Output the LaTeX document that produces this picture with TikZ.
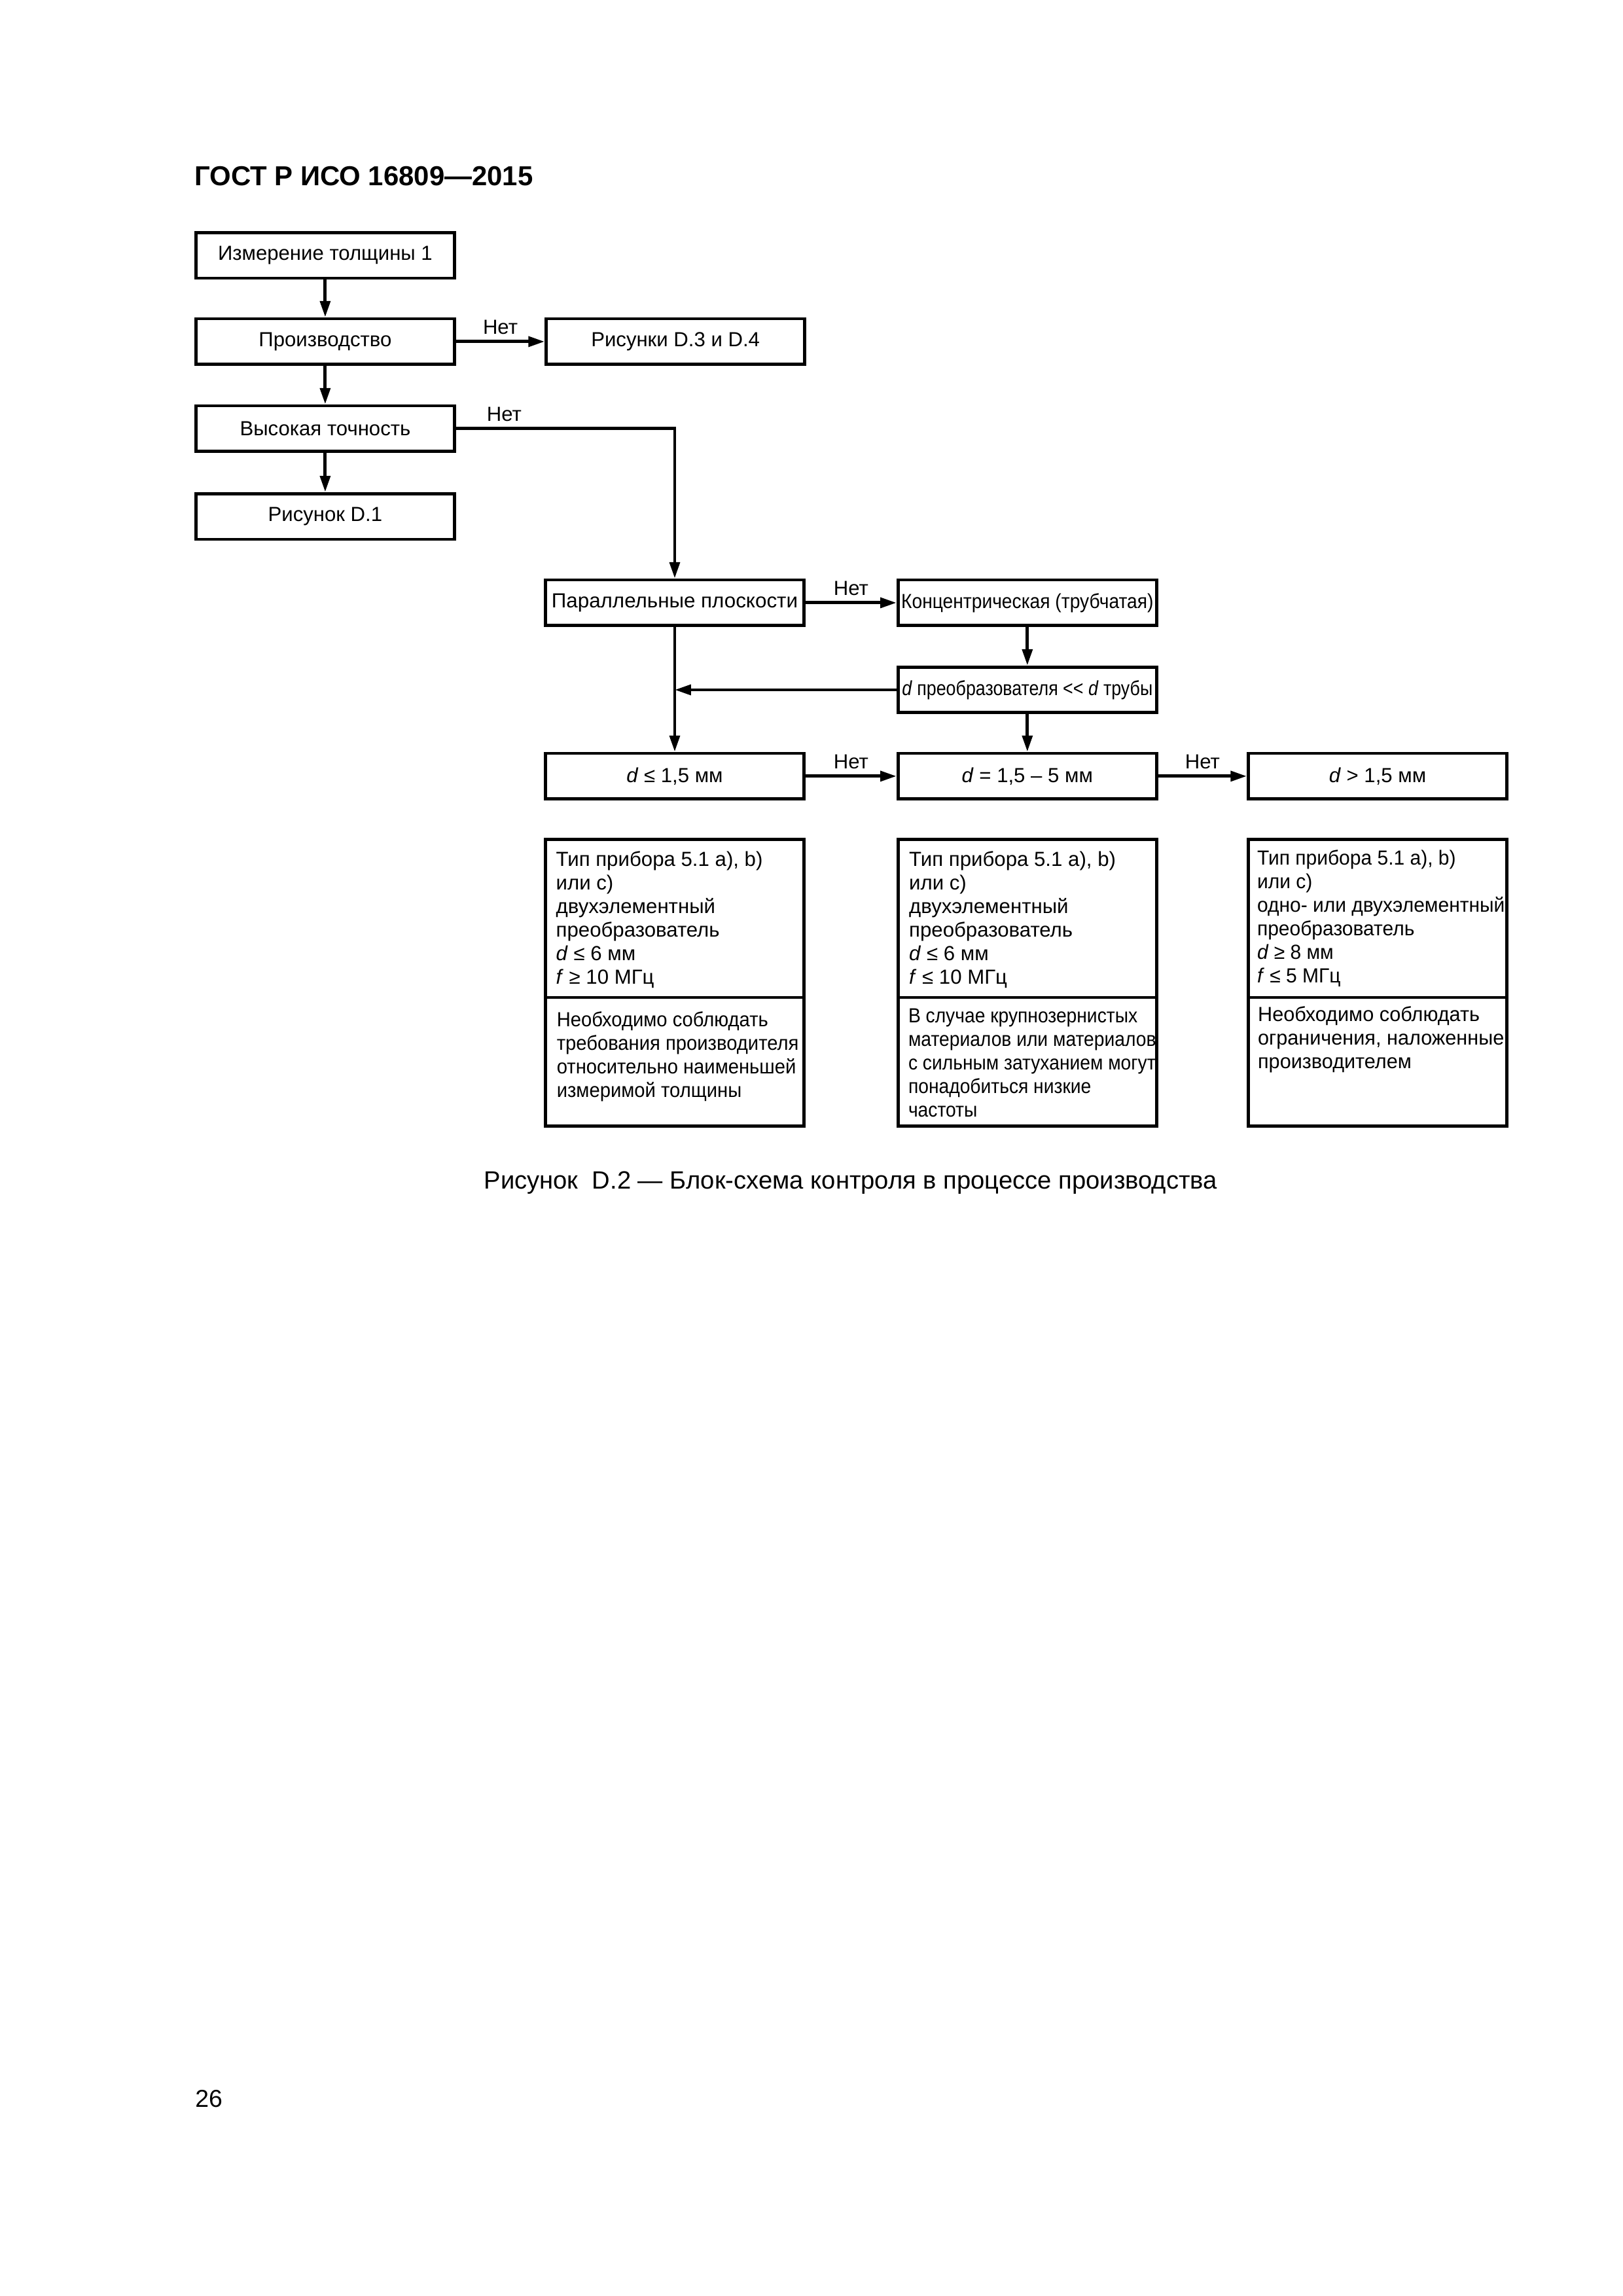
\documentclass[tikz,border=0pt]{standalone}
\usepackage{fontspec}
\setmainfont{Liberation Sans}
\usepackage{graphicx}
\usetikzlibrary{arrows.meta}
\newlength\natw
\newcommand\fitw[3]{\settowidth\natw{#2}\pgfmathsetmacro\fitf{(#1)/\natw}\scalebox{\fitf}[1]{#3}}
\newcommand\fitone[2]{\fitw{#1}{#2}{#2}}
\newcommand\blk[1]{\begin{tabular}[t]{@{}l@{}}#1\end{tabular}}
\newcommand\fs{\fontsize{7.5}{9}\selectfont}
\newcommand\fsl{\fontsize{7.5}{8.7}\selectfont}
\begin{document}
\begin{tikzpicture}[x=0.19091mm, y=-0.19091mm,
  box/.style={draw, line width=0.4mm, minimum width=33.45mm, minimum height=5.9mm, inner sep=0.3mm, font=\fs},
  lbl/.style={font=\fs, inner sep=0pt, anchor=south, yshift=0.7mm},
  conn/.style={line width=0.42mm, -{Triangle[length=2.1mm,width=1.3mm]}},
  frame/.style={draw, line width=0.4mm, minimum width=33.45mm, inner sep=0pt},
  txt/.style={inner sep=0pt, anchor=base west, font=\fsl}
]
\useasboundingbox (0,0) rectangle (1100,1556);

\node[anchor=base west, inner sep=0pt, font=\fontsize{10.1}{12}\selectfont\bfseries] (title) at (131.5,125.7) {ГОСТ Р ИСО 16809—2015};

\node[box] (izm) at (220.4,173) {Измерение толщины 1};
\node[box] (proizv) at (220.4,231.5) {Производство};
\node[box] (ris34) at (457.8,231.5) {Рисунки D.3 и D.4};
\node[box] (vys) at (220.4,290.5) {Высокая точность};
\node[box] (ris1) at (220.4,350) {Рисунок D.1};
\node[box] (par) at (457.3,408.5) {\fitone{31.86mm}{Параллельные плоскости}};
\node[box] (konc) at (696.3,408.5) {\fitone{32.62mm}{Концентрическая (трубчатая)}};
\node[box] (dpr) at (696.3,467.5) {\fitone{32.43mm}{\textit{d} преобразователя <\kern0pt< \textit{d} трубы}};
\node[box] (d1) at (457.3,526) {\textit{d} ≤ 1,5 мм};
\node[box] (d2) at (696.3,526) {\textit{d} = 1,5 – 5 мм};
\node[box] (d3) at (933.7,526) {\textit{d} > 1,5 мм};

% lower boxes
\node[frame, minimum height=20.43mm] (t1) at (457.3,622.5) {};
\node[frame, minimum height=16.61mm] (b1) at (457.3,719.5) {};
\node[frame, minimum height=20.43mm] (t2) at (696.3,622.5) {};
\node[frame, minimum height=16.61mm] (b2) at (696.3,719.5) {};
\node[frame, minimum height=20.43mm] (t3) at (933.7,622.5) {};
\node[frame, minimum height=16.61mm] (b3) at (933.7,719.5) {};

\node[txt] (tt1) at (376.5,587) {\fitw{26.74mm}{Тип прибора 5.1 a), b)}{\blk{Тип прибора 5.1 a), b)\\ или c)\\ двухэлементный\\ преобразователь\\ \textit{d} ≤ 6 мм\\ \textit{f} ≥ 10 МГц}}};
\node[txt] (tt2) at (615.8,587) {\fitw{26.74mm}{Тип прибора 5.1 a), b)}{\blk{Тип прибора 5.1 a), b)\\ или c)\\ двухэлементный\\ преобразователь\\ \textit{d} ≤ 6 мм\\ \textit{f} ≤ 10 МГц}}};
\node[txt] (tt3) at (851.7,586) {\fitw{32.05mm}{одно- или двухэлементный}{\blk{Тип прибора 5.1 a), b)\\ или c)\\ одно- или двухэлементный\\ преобразователь\\ \textit{d} ≥ 8 мм\\ \textit{f} ≤ 5 МГц}}};

\node[txt] (bt1) at (377,695.5) {\fitw{31.3mm}{требования производителя}{\blk{Необходимо соблюдать\\ требования производителя\\ относительно наименьшей\\ измеримой толщины}}};
\node[txt] (bt2) at (615.3,693) {\fitw{32.05mm}{материалов или материалов}{\blk{В случае крупнозернистых\\ материалов или материалов\\ с сильным затуханием могут\\ понадобиться низкие\\ частоты}}};
\node[txt] (bt3) at (852.2,692) {\fitw{31.86mm}{ограничения, наложенные}{\blk{Необходимо соблюдать\\ ограничения, наложенные\\ производителем}}};

% connectors
\draw[conn] (izm) -- (proizv);
\draw[conn] (proizv) -- node[lbl]{Нет} (ris34);
\draw[conn] (proizv) -- (vys);
\draw[conn] (vys) -- (ris1);
\draw[conn] (vys.east) -| node[lbl, pos=0.11]{Нет} (par.north);
\draw[conn] (par) -- node[lbl]{Нет} (konc);
\draw[conn] (konc) -- (dpr);
\draw[conn] (dpr) -- (dpr -| par);
\draw[conn] (par) -- (d1);
\draw[conn] (dpr) -- (d2);
\draw[conn] (d1) -- node[lbl]{Нет} (d2);
\draw[conn] (d2) -- node[lbl]{Нет} (d3);

\node[anchor=base, inner sep=0pt, font=\fontsize{9.2}{11}\selectfont] (cap) at (576.5,805.8) {Рисунок\ \ D.2 — Блок-схема контроля в процессе производства};
\node[anchor=base west, inner sep=0pt, font=\fontsize{9}{11}\selectfont] (pg) at (132,1428) {26};
\end{tikzpicture}
\end{document}
